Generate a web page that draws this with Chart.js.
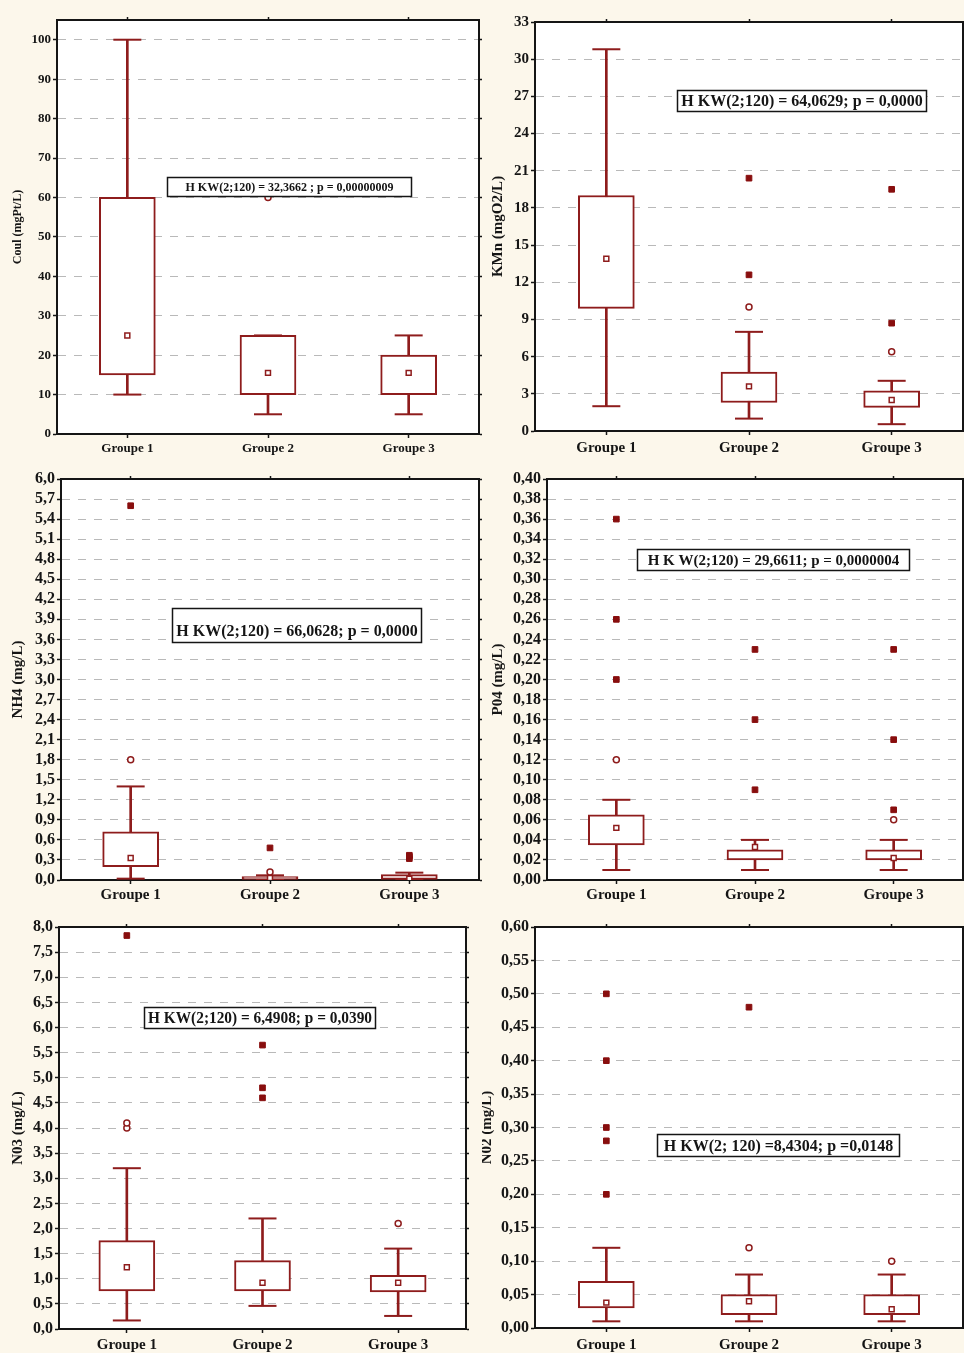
<!DOCTYPE html>
<html>
<head>
<meta charset="utf-8">
<script src="https://cdn.jsdelivr.net/npm/chart.js@4"></script>
<style>
  html, body { margin: 0; padding: 0; background: #fcf7eb; }
  body { width: 964px; height: 1353px; position: relative; overflow: hidden; }
  canvas { position: absolute; }
</style>
</head>
<body>
<canvas id="c1"></canvas>
<canvas id="c2"></canvas>
<canvas id="c3"></canvas>
<canvas id="c4"></canvas>
<canvas id="c5"></canvas>
<canvas id="c6"></canvas>
<script>
// Groups compared in every panel
const GROUPS = ['Groupe 1', 'Groupe 2', 'Groupe 3'];

// Colour (Coul, mgPt/L)
const COUL_TITLE = 'Coul (mgPt/L)';
const COUL_TEST = 'H KW(2;120) = 32,3662 ; p = 0,00000009';
const COUL_TICKS = [0, 10, 20, 30, 40, 50, 60, 70, 80, 90, 100];
const COUL_BOX = [[15, 60], [10, 25], [10, 20]];
const COUL_WHISKERS = [[10, 100], [5, 25], [5, 25]];
const COUL_MEDIANS = [25, 15.5, 15.5];
const COUL_EXTREMES = [[], [], []];
const COUL_OUTLIERS = [[], [60], []];

// Permanganate index (KMn, mgO2/L)
const KMN_TITLE = 'KMn (mgO2/L)';
const KMN_TEST = 'H KW(2;120) = 64,0629; p = 0,0000';
const KMN_TICKS = [0, 3, 6, 9, 12, 15, 18, 21, 24, 27, 30, 33];
const KMN_BOX = [[9.9, 19], [2.3, 4.75], [1.9, 3.25]];
const KMN_WHISKERS = [[2, 30.8], [1, 8], [0.55, 4.05]];
const KMN_MEDIANS = [13.9, 3.6, 2.5];
const KMN_EXTREMES = [[], [20.4, 12.6], [19.5, 8.7]];
const KMN_OUTLIERS = [[], [10], [6.4]];

// Ammonium (NH4, mg/L)
const NH4_TITLE = 'NH4 (mg/L)';
const NH4_TEST = 'H KW(2;120) = 66,0628; p = 0,0000';
const NH4_TICKS = [0, 0.3, 0.6, 0.9, 1.2, 1.5, 1.8, 2.1, 2.4, 2.7, 3.0, 3.3, 3.6, 3.9, 4.2, 4.5, 4.8, 5.1, 5.4, 5.7, 6.0];
const NH4_BOX = [[0.2, 0.72], [0.01, 0.05], [0.01, 0.08]];
const NH4_WHISKERS = [[0.02, 1.4], [0, 0.07], [0, 0.11]];
const NH4_MEDIANS = [0.33, 0.03, 0.02];
const NH4_EXTREMES = [[5.6], [0.48], [0.32, 0.35, 0.37]];
const NH4_OUTLIERS = [[1.8], [0.12], []];

// Phosphate (P04, mg/L)
const PO4_TITLE = 'P04 (mg/L)';
const PO4_TEST = 'H K W(2;120) = 29,6611; p = 0,0000004';
const PO4_TICKS = [0, 0.02, 0.04, 0.06, 0.08, 0.10, 0.12, 0.14, 0.16, 0.18, 0.20, 0.22, 0.24, 0.26, 0.28, 0.30, 0.32, 0.34, 0.36, 0.38, 0.40];
const PO4_BOX = [[0.035, 0.065], [0.02, 0.03], [0.02, 0.03]];
const PO4_WHISKERS = [[0.01, 0.08], [0.01, 0.04], [0.01, 0.04]];
const PO4_MEDIANS = [0.052, 0.033, 0.022];
const PO4_EXTREMES = [[0.36, 0.26, 0.20], [0.23, 0.16, 0.09], [0.23, 0.14, 0.07]];
const PO4_OUTLIERS = [[0.12], [], [0.06]];

// Nitrate (N03, mg/L)
const NO3_TITLE = 'N03 (mg/L)';
const NO3_TEST = 'H KW(2;120) = 6,4908; p = 0,0390';
const NO3_TICKS = [0, 0.5, 1.0, 1.5, 2.0, 2.5, 3.0, 3.5, 4.0, 4.5, 5.0, 5.5, 6.0, 6.5, 7.0, 7.5, 8.0];
const NO3_BOX = [[0.76, 1.76], [0.76, 1.36], [0.74, 1.07]];
const NO3_WHISKERS = [[0.17, 3.2], [0.46, 2.2], [0.26, 1.6]];
const NO3_MEDIANS = [1.23, 0.92, 0.92];
const NO3_EXTREMES = [[7.83], [5.65, 4.8, 4.6], []];
const NO3_OUTLIERS = [[4.0, 4.1], [], [2.1]];

// Nitrite (N02, mg/L)
const NO2_TITLE = 'N02 (mg/L)';
const NO2_TEST = 'H KW(2; 120) =8,4304; p =0,0148';
const NO2_TICKS = [0, 0.05, 0.10, 0.15, 0.20, 0.25, 0.30, 0.35, 0.40, 0.45, 0.50, 0.55, 0.60];
const NO2_BOX = [[0.03, 0.07], [0.02, 0.05], [0.02, 0.05]];
const NO2_WHISKERS = [[0.01, 0.12], [0.01, 0.08], [0.01, 0.08]];
const NO2_MEDIANS = [0.038, 0.04, 0.028];
const NO2_EXTREMES = [[0.50, 0.40, 0.30, 0.28, 0.20], [0.48], []];
const NO2_OUTLIERS = [[], [0.12], [0.10]];

const SERIF = "'Liberation Serif', 'Times New Roman', serif";
const RED = '#8e1c1c';
const DARK_RED = '#880e0e';
const INK = '#151515';

// White plot area plus the framed Kruskal-Wallis caption
const panelDecor = {
  id: 'panelDecor',
  beforeDraw(chart) {
    const { ctx, chartArea: a } = chart;
    ctx.save();
    ctx.fillStyle = '#ffffff';
    ctx.fillRect(a.left, a.top, a.right - a.left, a.bottom - a.top);
    ctx.restore();
  },
  afterDraw(chart, args, opts) {
    const b = opts.box;
    if (!b) return;
    const ctx = chart.ctx;
    ctx.save();
    ctx.fillStyle = '#ffffff';
    ctx.fillRect(b.x, b.y, b.w, b.h);
    ctx.strokeStyle = INK;
    ctx.lineWidth = 1.5;
    ctx.strokeRect(b.x + 0.5, b.y + 0.5, b.w - 1, b.h - 1);
    ctx.font = 'bold ' + opts.size + 'px ' + SERIF;
    ctx.fillStyle = INK;
    ctx.textAlign = 'center';
    ctx.textBaseline = 'middle';
    ctx.fillText(opts.text, b.x + b.w / 2, b.ty !== undefined ? b.ty : b.y + b.h / 2 + 1, b.w - 8);
    ctx.restore();
  }
};

function pointsFrom(lists) {
  const pts = [];
  lists.forEach((vals, i) => vals.forEach(v => pts.push({ x: GROUPS[i], y: v })));
  return pts;
}

function drawPanel(p) {
  const cv = document.getElementById(p.id);
  const r = p.rect, a = p.area;
  cv.width = r.w; cv.height = r.h;
  cv.style.left = r.x + 'px'; cv.style.top = r.y + 'px';
  cv.style.width = r.w + 'px'; cv.style.height = r.h + 'px';

  const yW = a.L - r.x;
  const rW = r.x + r.w - a.R;
  const topH = 4;
  const padTop = a.T - r.y - topH;
  const botH = r.y + r.h - a.B;
  const ticks = p.ticks;
  const yMax = p.max;
  const fmt = v => v.toFixed(p.dec).replace('.', ',');
  const setTicks = s => { s.ticks = ticks.map(v => ({ value: v })); };

  const caps = pointsFrom(p.whisk.map(w => [w[0], w[1]]));

  new Chart(cv, {
    type: 'bar',
    data: {
      labels: GROUPS,
      datasets: [
        { type: 'bar', data: p.whisk, barThickness: 2, backgroundColor: RED, borderWidth: 0, grouped: false, order: 5 },
        { type: 'bar', data: p.box, barThickness: 56, backgroundColor: '#ffffff', borderColor: RED, borderWidth: 2, borderSkipped: false, grouped: false, order: 4 },
        { type: 'line', data: caps, showLine: false, pointStyle: 'line', pointRadius: 14, borderColor: RED, pointBorderWidth: 2, order: 3 },
        { type: 'line', data: p.med.map((v, i) => ({ x: GROUPS[i], y: v })), showLine: false, pointStyle: 'rect', pointRadius: 3.5, pointBackgroundColor: '#ffffff', pointBorderColor: RED, pointBorderWidth: 1.5, order: 2 },
        { type: 'line', data: pointsFrom(p.ext), showLine: false, pointStyle: 'rect', pointRadius: 4, pointBackgroundColor: DARK_RED, pointBorderColor: DARK_RED, pointBorderWidth: 1, order: 1 },
        { type: 'line', data: pointsFrom(p.out), showLine: false, pointStyle: 'circle', pointRadius: 3, pointBackgroundColor: '#ffffff', pointBorderColor: RED, pointBorderWidth: 1.5, order: 1 }
      ]
    },
    options: {
      responsive: false,
      animation: false,
      devicePixelRatio: 1,
      layout: { autoPadding: false, padding: { left: 0, right: 0, top: padTop, bottom: 0 } },
      plugins: {
        legend: { display: false },
        tooltip: { enabled: false },
        panelDecor: {
          box: { x: p.test.x - r.x, y: p.test.y - r.y, w: p.test.w, h: p.test.h, ty: p.test.ty !== undefined ? p.test.ty - r.y : undefined },
          text: p.testText,
          size: p.test.size
        }
      },
      scales: {
        x: {
          type: 'category', position: 'bottom', offset: true,
          grid: { offset: false, drawOnChartArea: false, drawTicks: true, tickLength: 4, tickColor: INK, tickWidth: 1.5 },
          border: { color: INK, width: 2 },
          ticks: { color: INK, padding: p.catPad, font: { family: SERIF, size: p.catFont, weight: 'bold' } },
          afterFit: s => { s.height = botH; }
        },
        xTop: {
          type: 'category', position: 'top', offset: true,
          grid: { offset: false, drawOnChartArea: false, drawTicks: true, tickLength: 3, tickColor: INK, tickWidth: 1.5 },
          border: { color: INK, width: 2 },
          ticks: { display: false },
          afterFit: s => { s.height = topH; }
        },
        y: {
          type: 'linear', position: 'left', min: 0, max: yMax,
          afterBuildTicks: setTicks,
          grid: {
            color: c => (c.tick && (c.tick.value === 0 || c.tick.value >= yMax)) ? 'rgba(0,0,0,0)' : '#b9b9b9',
            lineWidth: 1, drawTicks: true, tickLength: 4, tickColor: INK, tickWidth: 1.5
          },
          border: { color: INK, width: 2, dash: [8, 8] },
          ticks: { autoSkip: false, color: INK, padding: 2, font: { family: SERIF, size: p.tickFont, weight: 'bold' }, callback: v => fmt(v) },
          title: { display: true, text: p.title, color: INK, font: { family: SERIF, size: p.titleFont, weight: 'bold' }, padding: { top: p.titlePad, bottom: 0 } },
          afterFit: s => { s.width = yW; }
        },
        yRight: {
          type: 'linear', position: 'right', min: 0, max: yMax,
          afterBuildTicks: setTicks,
          grid: { drawOnChartArea: false, drawTicks: true, tickLength: 3, tickColor: INK, tickWidth: 1.5 },
          border: { color: INK, width: 2 },
          ticks: { display: false },
          afterFit: s => { s.width = rW; }
        }
      }
    },
    plugins: [panelDecor]
  });
}

const PANELS = [
  { id: 'c1', rect: { x: 0, y: 0, w: 482, h: 456 }, area: { L: 57, T: 20, R: 479, B: 434 }, max: 105, dec: 0,
    ticks: COUL_TICKS, box: COUL_BOX, whisk: COUL_WHISKERS, med: COUL_MEDIANS, ext: COUL_EXTREMES, out: COUL_OUTLIERS,
    title: COUL_TITLE, testText: COUL_TEST, tickFont: 13, catFont: 13, catPad: 3, titleFont: 12, titlePad: 11,
    test: { x: 167, y: 177, w: 245, h: 20, size: 12 } },
  { id: 'c2', rect: { x: 482, y: 0, w: 482, h: 456 }, area: { L: 535, T: 22, R: 963, B: 431 }, max: 33, dec: 0,
    ticks: KMN_TICKS, box: KMN_BOX, whisk: KMN_WHISKERS, med: KMN_MEDIANS, ext: KMN_EXTREMES, out: KMN_OUTLIERS,
    title: KMN_TITLE, testText: KMN_TEST, tickFont: 15, catFont: 15, catPad: 4, titleFont: 15, titlePad: 7,
    test: { x: 677, y: 90, w: 250, h: 22, size: 16 } },
  { id: 'c3', rect: { x: 0, y: 456, w: 482, h: 450 }, area: { L: 61, T: 479, R: 479, B: 880 }, max: 6, dec: 1,
    ticks: NH4_TICKS, box: NH4_BOX, whisk: NH4_WHISKERS, med: NH4_MEDIANS, ext: NH4_EXTREMES, out: NH4_OUTLIERS,
    title: NH4_TITLE, testText: NH4_TEST, tickFont: 16, catFont: 15, catPad: 2, titleFont: 15, titlePad: 9,
    test: { x: 172, y: 608, w: 250, h: 35, ty: 632, size: 16 } },
  { id: 'c4', rect: { x: 482, y: 456, w: 482, h: 450 }, area: { L: 547, T: 479, R: 963, B: 880 }, max: 0.4, dec: 2,
    ticks: PO4_TICKS, box: PO4_BOX, whisk: PO4_WHISKERS, med: PO4_MEDIANS, ext: PO4_EXTREMES, out: PO4_OUTLIERS,
    title: PO4_TITLE, testText: PO4_TEST, tickFont: 16, catFont: 15, catPad: 2, titleFont: 15, titlePad: 7,
    test: { x: 637, y: 549, w: 273, h: 22, size: 15 } },
  { id: 'c5', rect: { x: 0, y: 906, w: 482, h: 447 }, area: { L: 59, T: 927, R: 466, B: 1329 }, max: 8, dec: 1,
    ticks: NO3_TICKS, box: NO3_BOX, whisk: NO3_WHISKERS, med: NO3_MEDIANS, ext: NO3_EXTREMES, out: NO3_OUTLIERS,
    title: NO3_TITLE, testText: NO3_TEST, tickFont: 16, catFont: 15, catPad: 3, titleFont: 15, titlePad: 9,
    test: { x: 144, y: 1007, w: 232, h: 22, size: 16 } },
  { id: 'c6', rect: { x: 482, y: 906, w: 482, h: 447 }, area: { L: 535, T: 927, R: 963, B: 1328 }, max: 0.6, dec: 2,
    ticks: NO2_TICKS, box: NO2_BOX, whisk: NO2_WHISKERS, med: NO2_MEDIANS, ext: NO2_EXTREMES, out: NO2_OUTLIERS,
    title: NO2_TITLE, testText: NO2_TEST, tickFont: 16, catFont: 15, catPad: 4, titleFont: 15, titlePad: -4,
    test: { x: 657, y: 1134, w: 243, h: 23, size: 16 } }
];

PANELS.forEach(drawPanel);
</script>
</body>
</html>
